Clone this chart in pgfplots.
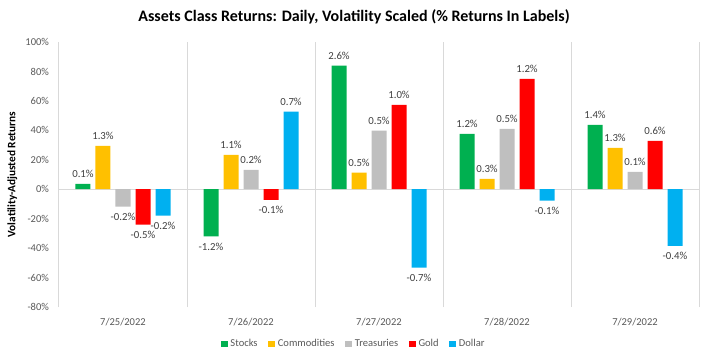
\documentclass[border=0pt]{standalone}
\usepackage{fontspec}
\setmainfont{Carlito}
\usepackage{pgfplots}
\usepackage{pgfplotstable}
\pgfplotsset{compat=1.18}
\definecolor{cStock}{HTML}{00B050}
\definecolor{cComm}{HTML}{FFC000}
\definecolor{cTreas}{HTML}{BFBFBF}
\definecolor{cGold}{HTML}{FF0000}
\definecolor{cDollar}{HTML}{00B0F0}
\definecolor{gridgray}{HTML}{D9D9D9}
\definecolor{ticktext}{HTML}{595959}
\definecolor{labtext}{HTML}{404040}

\pgfplotstableread{
x y lab
0 3.6 0.1
1 -32.1 -1.2
2 84.0 2.6
3 37.6 1.2
4 43.7 1.4
}\stocks
\pgfplotstableread{
x y lab
0 29.4 1.3
1 23.3 1.1
2 11.3 0.5
3 7.0 0.3
4 28.1 1.3
}\commod
\pgfplotstableread{
x y lab
0 -11.8 -0.2
1 13.1 0.2
2 39.8 0.5
3 41.0 0.5
4 11.8 0.1
}\treas
\pgfplotstableread{
x y lab
0 -24.0 -0.5
1 -7.2 -0.1
2 57.3 1.0
3 75.0 1.2
4 32.8 0.6
}\gold
\pgfplotstableread{
x y lab
0 -17.9 -0.2
1 52.7 0.7
2 -53.2 -0.7
3 -7.7 -0.1
4 -38.5 -0.4
}\dollar

\begin{document}
\begin{tikzpicture}[x=1pt,y=1pt]
\path[use as bounding box] (-44.25,-35.25) rectangle (487.5,230.25);
\begin{axis}[
  at={(0,0)}, anchor=south west,
  scale only axis, width=480pt, height=198.75pt,
  ymin=-80, ymax=100, xmin=-0.5, xmax=4.5,
  ytick={-80,-60,...,100},
  yticklabel={\pgfmathprintnumber{\tick}\%},
  xtick={0,1,2,3,4},
  xticklabels={7/25/2022,7/26/2022,7/27/2022,7/28/2022,7/29/2022},
  minor xtick={-0.5,0.5,1.5,2.5,3.5,4.5},
  xminorgrids,
  minor grid style={draw=gridgray, line width=0.75pt},
  extra y ticks={0}, extra y tick labels={},
  extra y tick style={ymajorgrids=true, major grid style={draw=gridgray, line width=0.75pt}},
  axis line style={draw=none},
  major tick length=0pt, minor tick length=0pt,
  /pgf/number format/assume math mode=true,
  tick label style={font=\fontsize{7.9}{9}\selectfont, text=ticktext},
  yticklabel style={anchor=east, xshift=-4pt},
  xticklabel style={anchor=center, yshift=-11.25pt},
  ylabel={Volatility-Adjusted Returns},
  every axis y label/.style={at={(0,0.5)}, xshift=-35pt, rotate=90, anchor=center,
     font=\bfseries\fontsize{8.5}{10}\selectfont},
  title={Assets Class Returns: Daily, Volatility Scaled (\% Returns In Labels)},
  every axis title/.style={at={(0.461,1)}, anchor=center, yshift=18.75pt,
     font=\bfseries\fontsize{12}{14}\selectfont},
  ybar, bar width=11.25pt,
  point meta=explicit symbolic,
  visualization depends on={rawy \as \rawy},
  nodes near coords={\pgfplotspointmeta\%},
  every node near coord/.append style={font=\fontsize{8.1}{9}\selectfont, text=labtext,
     inner ysep=4.5pt, anchor={\ifdim\rawy pt<0pt north\else south\fi}},
  legend columns=5,
  legend style={at={(0.461,0)}, yshift=-27.75pt, anchor=center, draw=none,
     font=\fontsize{7.9}{9}\selectfont, text=ticktext,
     /tikz/every even column/.append style={column sep=6pt}},
  legend image code/.code={\fill[#1] (0pt,-2.6pt) rectangle (5.2pt,2.6pt);},
]
\addplot[fill=cStock, draw=none, bar shift=-30pt] table[x=x,y=y,meta=lab]{\stocks};
\addplot[fill=cComm, draw=none, bar shift=-15pt] table[x=x,y=y,meta=lab]{\commod};
\addplot[fill=cTreas, draw=none, bar shift=0pt] table[x=x,y=y,meta=lab]{\treas};
\addplot[fill=cGold, draw=none, bar shift=15pt] table[x=x,y=y,meta=lab]{\gold};
\addplot[fill=cDollar, draw=none, bar shift=30pt] table[x=x,y=y,meta=lab]{\dollar};
\legend{Stocks,Commodities,Treasuries,Gold,Dollar}
\end{axis}
\end{tikzpicture}
\end{document}
